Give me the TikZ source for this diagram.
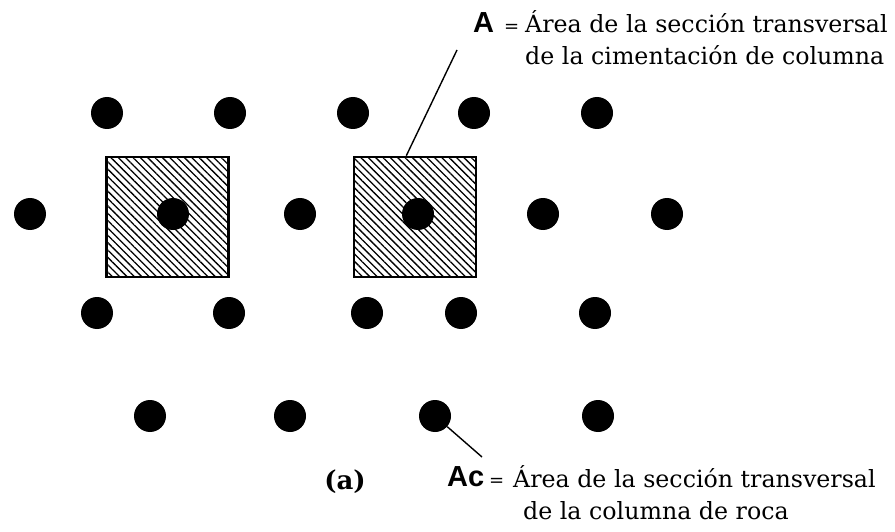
\documentclass[tikz,border=0pt]{standalone}
\usepackage{fontspec}
\setmainfont{DejaVu Serif}
\newfontfamily\labelsans{Liberation Sans}
\usetikzlibrary{patterns.meta,calc}

\begin{document}
\begin{tikzpicture}[
    x=1pt, y=-1pt,
    pile/.style={circle, fill=black, inner sep=0pt, minimum size=32pt},
    footing/.style={rectangle, draw, line width=2.5pt, minimum width=122pt, minimum height=120pt,
        pattern={Lines[angle=-45, distance=5.2pt, line width=1.3pt]}},
    leader/.style={line width=1.4pt},
    sym/.style={font=\labelsans\bfseries\fontsize{29}{32}\selectfont, inner sep=0pt, anchor=base west},
    eqsign/.style={font=\fontsize{18}{20}\selectfont, inner sep=0pt, anchor=base west},
    defn/.style={font=\fontsize{23.7}{32}\selectfont, align=left, inner sep=0pt, anchor=base west}
]
\useasboundingbox (0,0) rectangle (895,532);

% hatched column footings
\node[footing] (footL) at (167.5,217) {};
\node[footing] (footR) at (415,217) {};

% rock columns
\foreach \x/\y/\n in {107/113/p11, 230/113/p12, 353/113/p13, 474/113/p14, 597/113/p15,
                      30/214/p21, 173/214/p22, 300/214/p23, 418/214/p24, 543/214/p25, 667/214/p26,
                      97/313/p31, 229/313/p32, 367/313/p33, 461/313/p34, 595/313/p35,
                      150/416/p41, 290/416/p42, 435/416/p43, 598/416/p44}
    \node[pile] (\n) at (\x,\y) {};

% labels (multi-line nodes sit on their last baseline)
\node[sym] (symA) at (473,33) {A};
\node[eqsign] (eqA) at (504,33) {=};
\node[defn] (defA) at (525,65) {Área de la sección transversal\\de la cimentación de columna};

\node[sym] (symAc) at (447,486) {Ac};
\node[eqsign] (eqAc) at (489,486) {=};
\node[defn] (defAc) at (513,519) {Área de la sección transversal\\\hspace*{10pt}de la columna de roca};

\node[font=\bfseries\fontsize{26}{28}\selectfont, anchor=base] (caption) at (345,489) {(a)};

% leaders
\coordinate (tipA) at (457,50);
\coordinate (tipAc) at (482,457);
\draw[leader] ($(footR.north west)!0.43!(footR.north east)$) -- (tipA);
\draw[leader] (p43) -- (tipAc);
\end{tikzpicture}
\end{document}
